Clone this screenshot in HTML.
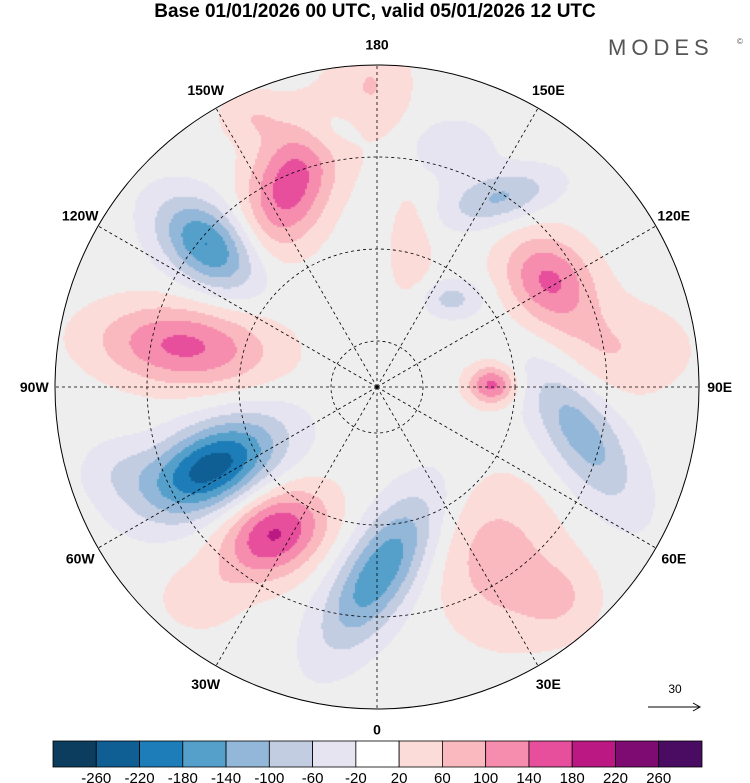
<!DOCTYPE html>
<html><head><meta charset="utf-8">
<style>
html,body{margin:0;padding:0;background:#fff;}
body{width:750px;height:783px;overflow:hidden;font-family:"Liberation Sans",sans-serif;position:relative;}
#field{position:absolute;left:0;top:0;}
#chart{position:absolute;left:0;top:0;}
</style></head>
<body>
<canvas id="field" width="750" height="783"></canvas>
<svg id="chart" width="750" height="783" xmlns="http://www.w3.org/2000/svg" font-family="Liberation Sans, sans-serif">
<text x="375" y="17" text-anchor="middle" font-size="19" font-weight="bold">Base 01/01/2026 00 UTC, valid 05/01/2026 12 UTC</text>
<text x="608" y="55" font-size="22" fill="#555" letter-spacing="5">MODES</text>
<text x="737" y="44" font-size="8" fill="#555">©</text>
<g id="grid"></g>
<g id="cbar"></g>
<text x="675" y="693" text-anchor="middle" font-size="12">30</text>
<line x1="648" y1="707" x2="700" y2="707" stroke="#000" stroke-width="1"/>
<path d="M693,703 L700,707 L693,711" fill="none" stroke="#000"/>
</svg>
<script>
const levels=[-260,-220,-180,-140,-100,-60,-20,20,60,100,140,180,220,260];
const colors=["#0c3d5e","#0f5f95","#1d7db8","#55a0ca","#93b7d9","#c3cde2","#e6e4f1","#ffffff","#fcdcd9","#f9b9bf","#f68cae","#e74f9d","#bb1883","#7d0b72","#4a0c63"];
// anomaly centres: lon (deg E), colatitude (deg), peak value, spread major/minor (deg), orientation (deg)
const blobLon=[-157,-130,-102,-64,-35,1,78,122,91,35,147,-179,99,140,163,166,-72,-40,-170,41,-155];
const blobColat=[48,48,43,40,39,40,45,44,25,46,49,65,51,25,54,31,59,60,57,61,65];
const blobVal=[165,-185,150,-245,185,-175,-125,145,150,80,-105,60,60,-75,-50,45,-45,45,-45,50,50];
const blobMajor=[10.5,8.8,13,11,8.5,13.5,13.5,7.5,3.6,12,8.5,6,12,4.8,7,3.6,6,6,6,6,5];
const blobMinor=[6.2,5.6,6.2,6.2,6.2,5.5,5.5,6.2,2.9,9.5,3.8,9.5,7.5,2.9,4.8,9.5,5,5,4,6,4];
const blobAngle=[-69,40,5,-27,-30,-57,58,45,0,80,-15,0,0,0,0,0,0,0,0,0,0];
const labels=[["180",180],["150E",150],["120E",120],["90E",90],["60E",60],["30E",30],["0",0],["30W",-30],["60W",-60],["90W",-90],["120W",-120],["150W",-150]];
const NS="http://www.w3.org/2000/svg";
const cx=377,cy=387,R=322,edge=70,k=R/edge;
function proj(lon,colat){const a=lon*Math.PI/180,r=colat*k;return [cx+r*Math.sin(a),cy+r*Math.cos(a)];}
function mk(t,at,parent){const e=document.createElementNS(NS,t);for(const q in at)e.setAttribute(q,at[q]);parent.appendChild(e);return e;}
function colorIdx(v){let i=0;while(i<levels.length&&v>=levels[i])i++;return i;}
const ctx=document.getElementById('field').getContext('2d');
const B=blobLon.map((l,i)=>{const [x,y]=proj(l,blobColat[i]);const a=blobAngle[i]*Math.PI/180;
 return {x,y,v:blobVal[i],sa:blobMajor[i]*k,sb:blobMinor[i]*k,c:Math.cos(a),s:Math.sin(a)};});
const st=2;
for(let py=cy-R;py<cy+R;py+=st){for(let px=cx-R;px<cx+R;px+=st){
 const dx=px+1-cx,dy=py+1-cy;if(dx*dx+dy*dy>R*R)continue;
 let v=0;for(const b of B){const X=px+1-b.x,Y=py+1-b.y;const u=X*b.c+Y*b.s,w=-X*b.s+Y*b.c;
  v+=b.v*Math.exp(-0.5*(u*u/(b.sa*b.sa)+w*w/(b.sb*b.sb)));}
 const i=colorIdx(v);ctx.fillStyle=(i===7)?'#eeeeee':colors[i];ctx.fillRect(px,py,st,st);}}
const grid=document.getElementById('grid');
[10,30,50].forEach(c=>{const e=mk('circle',{cx:cx,cy:cy,r:c*k,fill:'none',stroke:'#000','stroke-width':0.8,'stroke-dasharray':'3,3'},grid);

});
for(let lon=0;lon<360;lon+=30){const [x,y]=proj(lon,edge);const e=mk('line',{x1:cx,y1:cy,x2:x,y2:y,stroke:'#000','stroke-width':0.8,'stroke-dasharray':'3,3'},grid);

}
const rim=mk('circle',{cx:cx,cy:cy,r:R,fill:'none',stroke:'#000','stroke-width':1},grid);


labels.forEach(([t,lon])=>{const [x,y]=proj(lon,edge+4.5);const e=mk('text',{x:x,y:y+5,'text-anchor':'middle','font-size':14,'font-weight':'bold'},grid);e.textContent=t;

});
const cb=document.getElementById('cbar');const x0=53,x1=702,w=(x1-x0)/colors.length;
colors.forEach((c,i)=>{const e=mk('rect',{x:x0+i*w,y:741,width:w,height:26,fill:c,stroke:'#000','stroke-width':0.8},cb);

});
levels.forEach((l,i)=>{const e=mk('text',{x:x0+(i+1)*w,y:783,'text-anchor':'middle','font-size':15},cb);e.textContent=l;

});
</script>
</body></html>
